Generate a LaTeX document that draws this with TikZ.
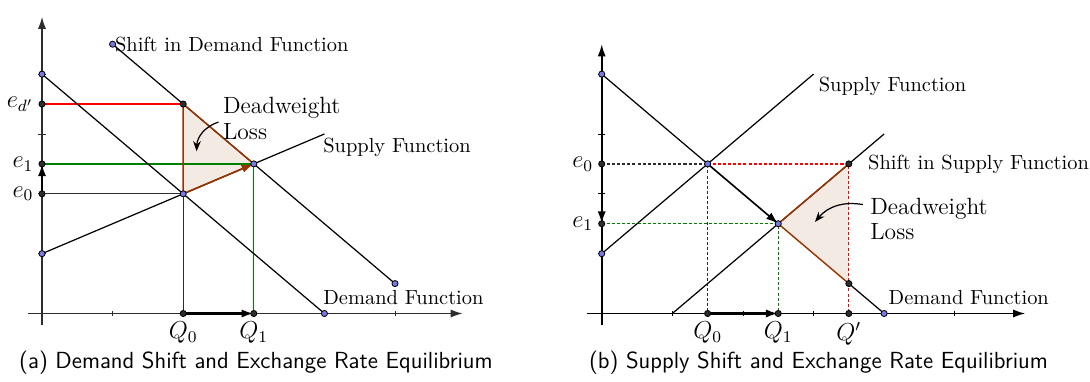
\documentclass[tikz,border=0pt]{standalone}
\usepackage{amsmath,amssymb}
\usetikzlibrary{arrows.meta}

\definecolor{dwlbrown}{RGB}{153,51,0}
\definecolor{dwlfill}{RGB}{244,234,228}
\definecolor{ptblue}{RGB}{120,120,230}
\definecolor{eqgreen}{RGB}{0,128,0}
\definecolor{axisgray}{RGB}{45,45,45}

\tikzset{
  axis/.style={-{Latex[length=6pt,width=4pt]}, line width=0.8pt, axisgray},
  func/.style={line width=0.6pt, black},
  shiftarrow/.style={-{Latex[length=6pt,width=4pt]}, line width=1.1pt},
  guide/.style={line width=0.6pt},
  dotted guide/.style={line width=0.6pt, dash pattern=on 1.5pt off 1pt},
  dotblue/.style={circle, draw=black, fill=ptblue, inner sep=0pt, minimum size=3pt, line width=0.4pt},
  dotblack/.style={circle, draw=black, fill=axisgray, inner sep=0pt, minimum size=3pt, line width=0.4pt},
  lbl/.style={font=\normalsize, inner sep=1pt},
  mlbl/.style={font=\fontsize{12}{14}\selectfont, inner sep=1pt},
  dwl/.style={font=\fontsize{11.5}{12.5}\selectfont, inner sep=1pt, anchor=west, align=left},
  capt/.style={font=\sffamily\fontsize{11.4}{13}\selectfont}
}

\begin{document}
\begin{tikzpicture}[x=1.214cm, y=1.029cm]

\useasboundingbox (-0.595,-1.132) rectangle (14.844,5.239);

% Demand shift (left)
\begin{scope}
  % Axes
  \draw[axis] (-0.2,0) -- (5.96,0);
  \draw[axis] (0,-0.2) -- (0,4.96);
  \foreach \i in {1,...,5} \draw[axisgray] (\i,-0.05) -- (\i,0.05);
  \foreach \j in {1,...,4} \draw[axisgray] (-0.05,\j) -- (0.05,\j);

  \coordinate (sA) at (0,1);
  \coordinate (sB) at (4,3);
  \coordinate (dA) at (0,4);
  \coordinate (dB) at (4,0);
  \coordinate (nA) at (1,4.5);
  \coordinate (nB) at (5,0.5);
  \coordinate (E0) at (2,2);
  \coordinate (E1) at (3,2.5);
  \coordinate (Ed) at (2,3.5);
  \coordinate (yE0) at (0,2);
  \coordinate (yE1) at (0,2.5);
  \coordinate (yEd) at (0,3.5);
  \coordinate (xQ0) at (2,0);
  \coordinate (xQ1) at (3,0);

  % Deadweight loss
  \fill[dwlfill] (E0) -- (Ed) -- (E1) -- cycle;

  % Guide lines
  \draw[guide, red] (yEd) -- (Ed);
  \draw[guide, eqgreen] (yE1) -- (E1) -- (xQ1);
  \draw[guide, axisgray] (yE0) -- (E0) -- (xQ0);

  % Functions
  \draw[func] (sA) -- (sB);
  \draw[func] (dA) -- (dB);
  \draw[func] (nA) -- (nB);

  \draw[guide, dwlbrown, line width=0.7pt] (E0) -- (Ed) -- (E1);
  \draw[shiftarrow, dwlbrown, line width=0.8pt] (E0) -- (E1);
  \draw[shiftarrow] (yE0) -- (yE1);
  \draw[shiftarrow] (xQ0) -- (xQ1);

  % Points
  \foreach \p in {sA,dA,nA,nB,dB,E0,E1} \node[dotblue] at (\p) {};
  \foreach \p in {yE0,yE1,yEd,Ed,xQ0,xQ1} \node[dotblack] at (\p) {};

  % Labels
  \node[mlbl, left=3pt] (le0) at (yE0) {$e_0$};
  \node[mlbl, left=3pt] (le1) at (yE1) {$e_1$};
  \node[mlbl, left=3pt] (led) at (yEd) {$e_{d'}$};
  \node[mlbl, below=3pt] (lq0) at (xQ0) {$Q_0$};
  \node[mlbl, below=3pt] (lq1) at (xQ1) {$Q_1$};
  \node[lbl, anchor=west] (lnd) at (1.0,4.5) {Shift in Demand Function};
  \node[lbl, anchor=west] (lsf) at (3.95,2.77) {Supply Function};
  \node[lbl, anchor=west] (ldf) at (3.95,0.27) {Demand Function};
  \node[dwl] (ldw) at (2.53,3.26) {Deadweight\\Loss};
  \draw[-{Stealth[length=5pt]}, line width=0.6pt] (2.5,3.2) to[bend right=35] (2.19,2.71);

  \node[capt] (capa) at (3.03,-0.814) {(a) Demand Shift and Exchange Rate Equilibrium};
\end{scope}

% Supply shift (right)
\begin{scope}[shift={(7.928,0)}]
  % Axes
  \draw[axis, black] (-0.21,0) -- (6.0,0);
  \draw[axis, black] (0,-0.2) -- (0,4.5);
  \foreach \i in {1,...,5} \draw (\i,-0.05) -- (\i,0.05);
  \foreach \j in {1,...,4} \draw (-0.05,\j) -- (0.05,\j);

  \coordinate (SA) at (0,1);
  \coordinate (SB) at (3,4);
  \coordinate (TA) at (1,0);
  \coordinate (TB) at (4,3);
  \coordinate (DA) at (0,4);
  \coordinate (DB) at (4,0);
  \coordinate (F0) at (1.5,2.5);
  \coordinate (F1) at (2.5,1.5);
  \coordinate (Ft) at (3.5,2.5);
  \coordinate (Fb) at (3.5,0.5);
  \coordinate (yF0) at (0,2.5);
  \coordinate (yF1) at (0,1.5);
  \coordinate (xR0) at (1.5,0);
  \coordinate (xR1) at (2.5,0);
  \coordinate (xRp) at (3.5,0);

  % Deadweight loss
  \fill[dwlfill] (F1) -- (Ft) -- (Fb) -- cycle;

  % Guide lines
  \draw[dotted guide, axisgray] (yF0) -- (F0) -- (xR0);
  \draw[dotted guide, red] (F0) -- (Ft) -- (xRp);
  \draw[dotted guide, eqgreen] (yF1) -- (F1) -- (xR1);

  % Functions
  \draw[func] (SA) -- (SB);
  \draw[func] (TA) -- (TB);
  \draw[func] (DA) -- (F0);
  \draw[func] (Fb) -- (DB);
  \draw[guide, dwlbrown, line width=0.7pt] (Ft) -- (F1) -- (Fb);
  \draw[shiftarrow, line width=0.8pt] (F0) -- (F1);
  \draw[shiftarrow] (yF0) -- (yF1);
  \draw[shiftarrow] (xR0) -- (xR1);

  % Points
  \foreach \p in {SA,DA,DB,F0,F1} \node[dotblue] at (\p) {};
  \foreach \p in {yF0,yF1,Ft,Fb,xR0,xR1,xRp} \node[dotblack] at (\p) {};

  % Labels
  \node[mlbl, left=3pt] (lf0) at (yF0) {$e_0$};
  \node[mlbl, left=3pt] (lf1) at (yF1) {$e_1$};
  \node[mlbl, below=3pt] (lr0) at (xR0) {$Q_0$};
  \node[mlbl, below=3pt] (lr1) at (xR1) {$Q_1$};
  \node[mlbl, below=3pt] (lrp) at (xRp) {$Q'$};
  \node[lbl, anchor=west] (lsf2) at (3.04,3.8) {Supply Function};
  \node[lbl, anchor=west] (lss) at (3.74,2.5) {Shift in Supply Function};
  \node[lbl, anchor=west] (ldf2) at (4.03,0.27) {Demand Function};
  \node[dwl] (ldw2) at (3.77,1.58) {Deadweight\\Loss};
  \draw[-{Stealth[length=5pt]}, line width=0.6pt] (3.7,1.82) to[bend right=30] (3.02,1.53);

  \node[capt] (capb) at (3.07,-0.814) {(b) Supply Shift and Exchange Rate Equilibrium};
\end{scope}

\end{tikzpicture}
\end{document}
